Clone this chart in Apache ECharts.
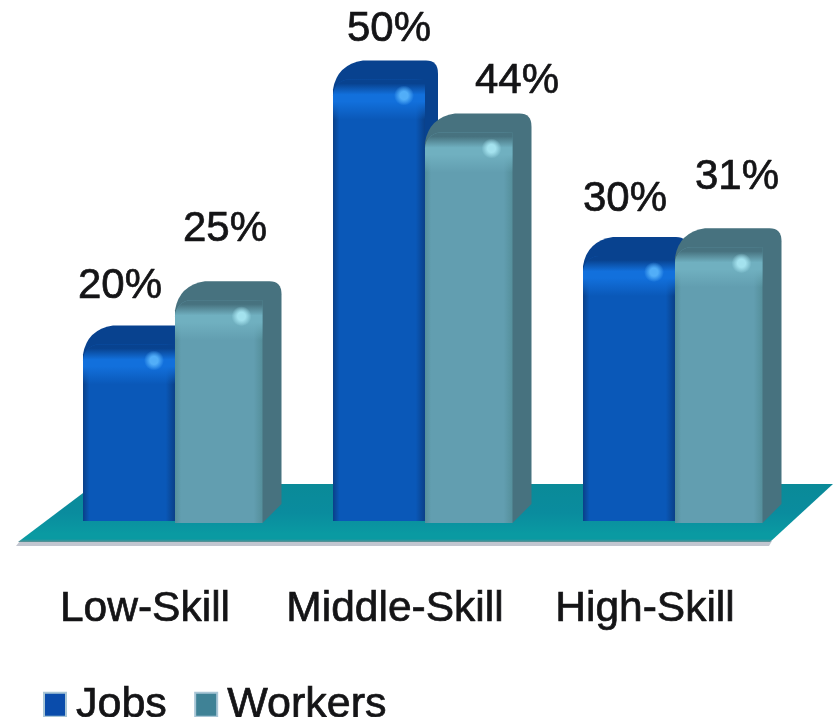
<!DOCTYPE html>
<html>
<head>
<meta charset="utf-8">
<style>html,body{margin:0;padding:0;background:#fff}#chart{width:833px;height:717px}</style>
<script src="https://cdn.jsdelivr.net/npm/echarts@6/dist/echarts.min.js"></script>
</head>
<body>
<div id="chart"></div>
<script>
const categories = ['Low-Skill', 'Middle-Skill', 'High-Skill'];
const jobs = [20, 50, 30];
const workers = [25, 44, 31];

// Hand placement of each percentage label relative to its bar: [dx from cluster centre, dy from bar top]
const jobsLabelOffsets = [[-55, -58], [-36, -50], [-50, -57]];
const workersLabelOffsets = [[50, -71], [92, -51], [62, -70]];

const FONT = '"Liberation Sans", Arial, sans-serif';
const TEXT = '#141416';
const TEXT_WEIGHT = 0.7;

const jobsPalette = {
  legend: '#0a4cab', side: '#08428f', rim: '#0a4088', main: '#0a58b8',
  band: '#1270dc', glow: '#52aef8'
};
const workersPalette = {
  legend: '#3f8296', side: '#47727f', rim: '#558f9b', main: '#629eb0',
  band: '#70b0c0', glow: '#a4e2ee'
};

const linear = (x, y, x2, y2, stops) => new echarts.graphic.LinearGradient(
  x, y, x2, y2, stops.map(([offset, color]) => ({ offset, color })));

// One extruded bar: silhouette with the top and side faces, then the lit front face.
function barShape(x0, x1, yTop, base, depthX, depthY, pal) {
  const back = yTop - depthY;
  const right = x1 + depthX;
  const outline = [
    `M${x0} ${base}`, `L${x0} ${yTop + 10}`,
    `Q${x0 + 4} ${back + 4} ${x0 + 30} ${back}`,
    `L${right - 12} ${back}`,
    `Q${right} ${back} ${right} ${back + 13}`,
    `L${right} ${base - depthX}`, `L${x1} ${base}`, 'Z'
  ].join(' ');
  return [
    { type: 'path', shape: { pathData: outline, layout: 'cover',
        x: x0, y: back, width: right - x0, height: base - back },
      style: { fill: pal.side } },
    { type: 'rect', shape: { x: x0, y: yTop, width: x1 - x0, height: base - yTop, r: [16, 0, 0, 0] },
      style: { fill: linear(0, 0, 1, 0, [[0, pal.rim], [0.07, pal.main], [0.9, pal.main], [1, pal.rim]]) } },
    { type: 'rect', shape: { x: x0, y: yTop, width: x1 - x0, height: 40, r: [16, 0, 0, 0] },
      style: { fill: linear(0, 0, 0, 1, [[0, pal.side], [0.1, pal.side], [0.38, pal.band], [0.55, pal.band], [1, pal.band + '00']]) } },
    { type: 'circle', shape: { cx: x1 - 21, cy: yTop + 16, r: 10 },
      style: { fill: new echarts.graphic.RadialGradient(0.5, 0.5, 0.5, [
        { offset: 0, color: pal.glow }, { offset: 0.4, color: pal.glow }, { offset: 1, color: pal.glow + '00' }]) } }
  ];
}

function barRenderer(pal, side, offsets) {
  return function (params, api) {
    const i = api.value(0);
    const value = api.value(1);
    const [cx, yTop] = api.coord([i, value]);
    const base = api.coord([i, 0])[1];
    const band = api.size([1, 0])[0];
    const width = band * (side < 0 ? 0.368 : 0.35);
    const depthX = band * (side < 0 ? 0.052 : 0.076);
    const depthY = band * 0.076;
    const x0 = side < 0 ? cx - width : cx;
    const x1 = side < 0 ? cx : cx + width;
    const [dx, dy] = offsets[i];
    return {
      type: 'group',
      children: barShape(x0, x1, yTop, base + (side < 0 ? 0 : 2), depthX, depthY, pal).concat([{
        type: 'text',
        style: { x: cx + dx, y: yTop + dy, text: value + '%', fill: TEXT,
          stroke: TEXT, lineWidth: TEXT_WEIGHT,
          font: '42px ' + FONT, textAlign: 'center', textVerticalAlign: 'middle' }
      }])
    };
  };
}

// Teal floor under the bars, sized from the plot area.
function floorRenderer(params, api) {
  const g = params.coordSys;
  const base = g.y + g.height;
  const front = base + 20, backY = base - 37;
  const left = g.x - 32, right = g.x + g.width - 30;
  const farLeft = left + 77, farRight = g.x + g.width + 33;
  return {
    type: 'group',
    children: [
      { type: 'polygon',
        shape: { points: [[left - 2, front + 5], [right - 1, front + 5], [right + 2, front], [left + 2, front]] },
        style: { fill: '#c2c6d0' } },
      { type: 'polygon',
        shape: { points: [[left, front + 1], [right, front + 1], [farRight, backY], [farLeft, backY]] },
        style: { fill: linear(0, 0, 0, 1, [[0, '#0a8a98'], [0.5, '#0a8c9e'], [0.86, '#0a9aa2'], [0.95, '#0a9aa2'], [1, '#5f8f94']]) } }
    ]
  };
}

const rows = values => values.map((v, i) => [i, v]);

const chart = echarts.init(document.getElementById('chart'), null, { renderer: 'canvas' });
chart.setOption({
  animation: false,
  backgroundColor: '#ffffff',
  grid: { left: 50, right: 33, top: 79.5, bottom: 196 },
  xAxis: {
    type: 'category', data: categories,
    axisLine: { show: false }, axisTick: { show: false }, splitLine: { show: false },
    axisLabel: { interval: 0, margin: 67, color: TEXT, fontFamily: FONT, fontSize: 42.5, padding: [0, 60, 0, 0],
      textBorderColor: TEXT, textBorderWidth: TEXT_WEIGHT }
  },
  yAxis: { type: 'value', min: 0, max: 50, show: false, splitLine: { show: false } },
  legend: {
    data: ['Jobs', 'Workers'], left: 38, top: 678, orient: 'horizontal',
    icon: 'rect', itemWidth: 22, itemHeight: 24, itemGap: 27,
    itemStyle: { borderColor: '#a9c6d6', borderWidth: 2 },
    textStyle: { color: TEXT, fontFamily: FONT, fontSize: 43, padding: [0, 0, 0, 5],
      textBorderColor: TEXT, textBorderWidth: TEXT_WEIGHT }
  },
  series: [
    { type: 'custom', name: 'floor', data: [[0, 0]], encode: { x: 0, y: 1 },
      renderItem: floorRenderer, silent: true, z: 1 },
    { type: 'custom', name: 'Jobs', data: rows(jobs), encode: { x: 0, y: 1 },
      itemStyle: { color: jobsPalette.legend },
      renderItem: barRenderer(jobsPalette, -1, jobsLabelOffsets), z: 2 },
    { type: 'custom', name: 'Workers', data: rows(workers), encode: { x: 0, y: 1 },
      itemStyle: { color: workersPalette.legend },
      renderItem: barRenderer(workersPalette, 1, workersLabelOffsets), z: 3 }
  ]
});
</script>
</body>
</html>
